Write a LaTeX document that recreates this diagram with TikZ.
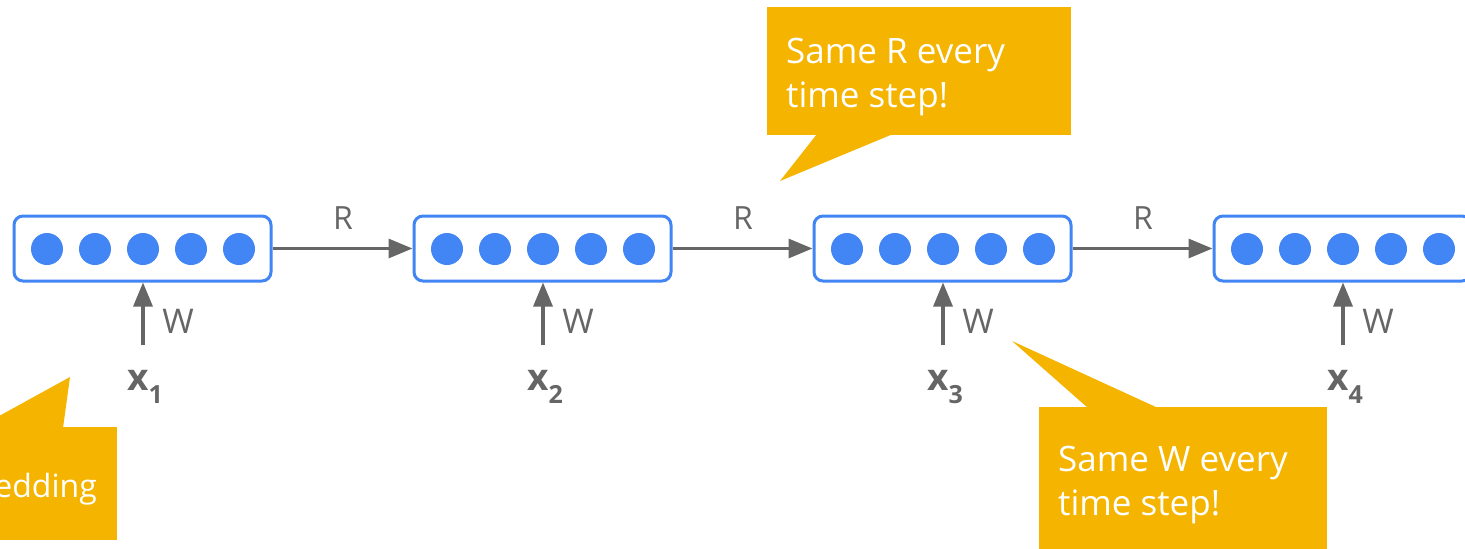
\documentclass[tikz,border=0pt]{standalone}
\usepackage{fontspec}
\setmainfont{Open Sans}
\usetikzlibrary{arrows.meta}
\definecolor{cellblue}{HTML}{4285F4}
\definecolor{wiregray}{HTML}{666666}
\definecolor{noteyellow}{HTML}{F4B400}
\begin{document}
\begin{tikzpicture}[x=1pt,y=-1pt,
  layerbox/.style={draw=cellblue,line width=3pt,rounded corners=9pt,fill=white,
    minimum width=257pt,minimum height=65pt,inner sep=0pt},
  cell/.style={circle,fill=cellblue,minimum size=32pt,inner sep=0pt},
  wire/.style={draw=wiregray,line width=3.2pt,-{Triangle[length=24pt,width=19pt]}},
  weightlabel/.style={text=wiregray,font=\fontsize{32}{32}\selectfont,inner sep=0pt},
  inputlabel/.style={text=wiregray,inner sep=0pt,anchor=base west},
  note/.style={fill=noteyellow,draw=none},
  notetext/.style={text=white,font=\fontsize{35}{44}\selectfont,align=left,inner sep=0pt,anchor=base west}]
\useasboundingbox (0,0) rectangle (1465,549);

% callout shapes
\fill[note] (767,7) rectangle (1071,135);
\fill[note] (817,134) -- (780,181) -- (893,134) -- cycle;
\fill[note] (1039,407) rectangle (1327,549);
\fill[note] (1088,408) -- (1012,341) -- (1158,408) -- cycle;
\fill[note] (-10,427) rectangle (117,540);
\fill[note] (63,428) -- (70,377) -- (-10,421) -- (-10,428) -- cycle;

% callout texts (anchored at the baseline of their last line)
\node[notetext] (noteR) at (786,107) {Same R every\\time step!};
\node[notetext] (noteW) at (1058,515) {Same W every\\time step!};
\node[notetext,anchor=base east,font=\fontsize{32}{40}\selectfont] (noteE) at (97,497) {edding};

% hidden layers
\foreach \i in {1,...,4}{
  \node[layerbox] (h\i) at ({142.5+400*(\i-1)},248.5) {};
  \foreach \j in {1,...,5}{
    \node[cell] (c\i\j) at ({47+400*(\i-1)+48*(\j-1)},249) {};
  }
  \coordinate (in\i) at ({143+400*(\i-1)},345);
  \node[inputlabel] (x\i) at ({127+400*(\i-1)},390)
    {\fontsize{37}{37}\selectfont\bfseries x\raisebox{-13pt}{\fontsize{25}{25}\selectfont\bfseries\i}};
  \draw[wire] (in\i) -- (h\i.south -| in\i);
  \node[weightlabel,font=\fontsize{34}{34}\selectfont] (w\i) at ({178+400*(\i-1)},321) {W};
}

% recurrent connections
\foreach \a/\b in {1/2,2/3,3/4}{
  \draw[wire] (h\a.east) -- (h\b.west);
}
\node[weightlabel] (r1) at (343,218) {R};
\node[weightlabel] (r2) at (743,218) {R};
\node[weightlabel] (r3) at (1143,218) {R};
\end{tikzpicture}
\end{document}
